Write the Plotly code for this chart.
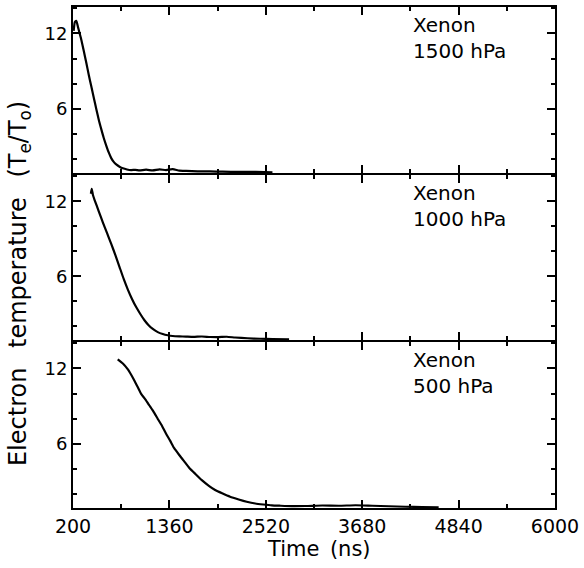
import plotly.graph_objects as go

# ---- data (time in ns, Te/T0) ----
t_1500 = [208, 222, 240, 260, 280, 300, 330, 360, 390, 420, 450, 480, 510, 540, 570, 600,
          630, 660, 690, 720, 760, 800, 850, 900, 950, 1000, 1080, 1160, 1240, 1320, 1400,
          1480, 1560, 1700, 1850, 2000, 2200, 2400, 2600]
v_1500 = [12.2, 12.9, 13.0, 12.5, 12.0, 11.5, 10.6, 9.67, 8.7, 7.8, 6.9, 6.0, 5.15, 4.4, 3.7, 3.1,
          2.55, 2.1, 1.8, 1.6, 1.42, 1.29, 1.2, 1.15, 1.17, 1.13, 1.18, 1.12, 1.2, 1.15, 1.22,
          1.1, 1.08, 1.05, 1.04, 1.02, 1.0, 1.0, 0.98]

t_1000 = [415, 425, 440, 460, 510, 560, 610, 660, 710, 760, 810, 860, 910, 960, 1010, 1060,
          1110, 1160, 1220, 1280, 1340, 1400, 1480, 1560, 1650, 1750, 1850, 1950, 2050, 2150,
          2300, 2450, 2600, 2800]
v_1000 = [12.6, 13.0, 12.5, 12.1, 11.2, 10.3, 9.45, 8.6, 7.7, 6.75, 5.8, 4.95, 4.2, 3.55, 3.0, 2.5,
          2.1, 1.8, 1.55, 1.4, 1.3, 1.24, 1.21, 1.19, 1.17, 1.2, 1.16, 1.15, 1.18, 1.12,
          1.06, 1.02, 1.0, 0.98]

t_500 = [738, 800, 858, 900, 938, 980, 1018, 1070, 1117, 1170, 1217, 1270, 1317, 1370, 1416,
         1476, 1536, 1600, 1676, 1750, 1835, 1910, 1994, 2090, 2194, 2290, 2394, 2490, 2592,
         2700, 2832, 3000, 3200, 3400, 3600, 3800, 4000, 4200, 4400, 4600]
v_500 = [12.73, 12.4, 11.95, 11.5, 11.04, 10.5, 10.0, 9.55, 9.08, 8.55, 8.03, 7.45, 6.86, 6.25, 5.69,
         5.15, 4.64, 4.1, 3.6, 3.13, 2.68, 2.35, 2.09, 1.82, 1.6, 1.42, 1.28, 1.2, 1.13,
         1.1, 1.07, 1.08, 1.12, 1.1, 1.14, 1.1, 1.06, 1.02, 1.0, 0.97]

panel_labels = ["Xenon<br>1500 hPa", "Xenon<br>1000 hPa", "Xenon<br>500 hPa"]
x_tickvals = [200, 1360, 2520, 3680, 4840, 6000]
y_tickvals = [6, 12]
x_title = "Time\u2002(ns)"
y_title = "Electron\u2002 temperature\u2002 (T<sub>e</sub>/T<sub>o</sub>)"

FONT = "DejaVu Sans"
LW = 2

# tiny gaps so that the outward-drawn boundary lines of adjacent panels coincide
domains = [[0.6687, 1.0], [0.3353, 0.6647], [0.0, 0.3313]]
series = [(t_1500, v_1500), (t_1000, v_1000), (t_500, v_500)]

fig = go.Figure()
layout_axes = {}
for i, ((t, v), dom) in enumerate(zip(series, domains), start=1):
    sfx = "" if i == 1 else str(i)
    fig.add_trace(go.Scatter(x=t, y=v, mode="lines", xaxis="x" + sfx, yaxis="y" + sfx,
                             line=dict(color="black", width=2.2, shape="spline", smoothing=0.5),
                             showlegend=False))
    layout_axes["xaxis" + sfx] = dict(
        domain=[0, 1], anchor="y" + sfx, range=[200, 6000], tickmode="array", tickvals=x_tickvals,
        showticklabels=(i == 3),
        ticks="inside", ticklen=8, tickwidth=2, tickcolor="black",
        showline=True, linewidth=LW, linecolor="black", mirror="ticks",
        showgrid=False, zeroline=False,
        minor=dict(dtick=580, tick0=200, ticks="inside", ticklen=4, tickwidth=2,
                   tickcolor="black", showgrid=False),
        tickfont=dict(family=FONT, size=19, color="black"))
    if i != 1:
        layout_axes["xaxis" + sfx]["matches"] = "x"
    layout_axes["yaxis" + sfx] = dict(
        domain=dom, anchor="x" + sfx, range=[0.92, 14.1], tickmode="array", tickvals=y_tickvals,
        ticks="inside", ticklen=8, tickwidth=2, tickcolor="black",
        showline=True, linewidth=LW, linecolor="black", mirror="ticks",
        showgrid=False, zeroline=False,
        minor=dict(dtick=2, tick0=0, ticks="inside", ticklen=4, tickwidth=2,
                   tickcolor="black", showgrid=False),
        tickfont=dict(family=FONT, size=18, color="black"))

fig.update_layout(**layout_axes)

for i, lab in enumerate(panel_labels, start=1):
    sfx = "" if i == 1 else str(i)
    fig.add_annotation(text=lab, xref="x" + sfx + " domain", yref="y" + sfx + " domain",
                       x=0.701, y=0.975, xanchor="left", yanchor="top",
                       align="left", showarrow=False,
                       font=dict(family=FONT, size=20, color="black"))

fig.add_annotation(text=x_title, xref="paper", yref="paper", x=0.51, y=-0.081,
                   xanchor="center", yanchor="middle", showarrow=False,
                   font=dict(family=FONT, size=21, color="black"))

fig.add_annotation(text=y_title, xref="paper", yref="paper", x=-0.112, y=0.447,
                   xanchor="center", yanchor="middle", textangle=-90, showarrow=False,
                   font=dict(family=FONT, size=24, color="black"))

fig.update_layout(width=584, height=568, margin=dict(l=73, r=26, t=5, b=60),
                  plot_bgcolor="rgba(0,0,0,0)", paper_bgcolor="white")

fig.write_html("out.html", config={"displayModeBar": False},
               post_script="document.body.style.margin='0';")
